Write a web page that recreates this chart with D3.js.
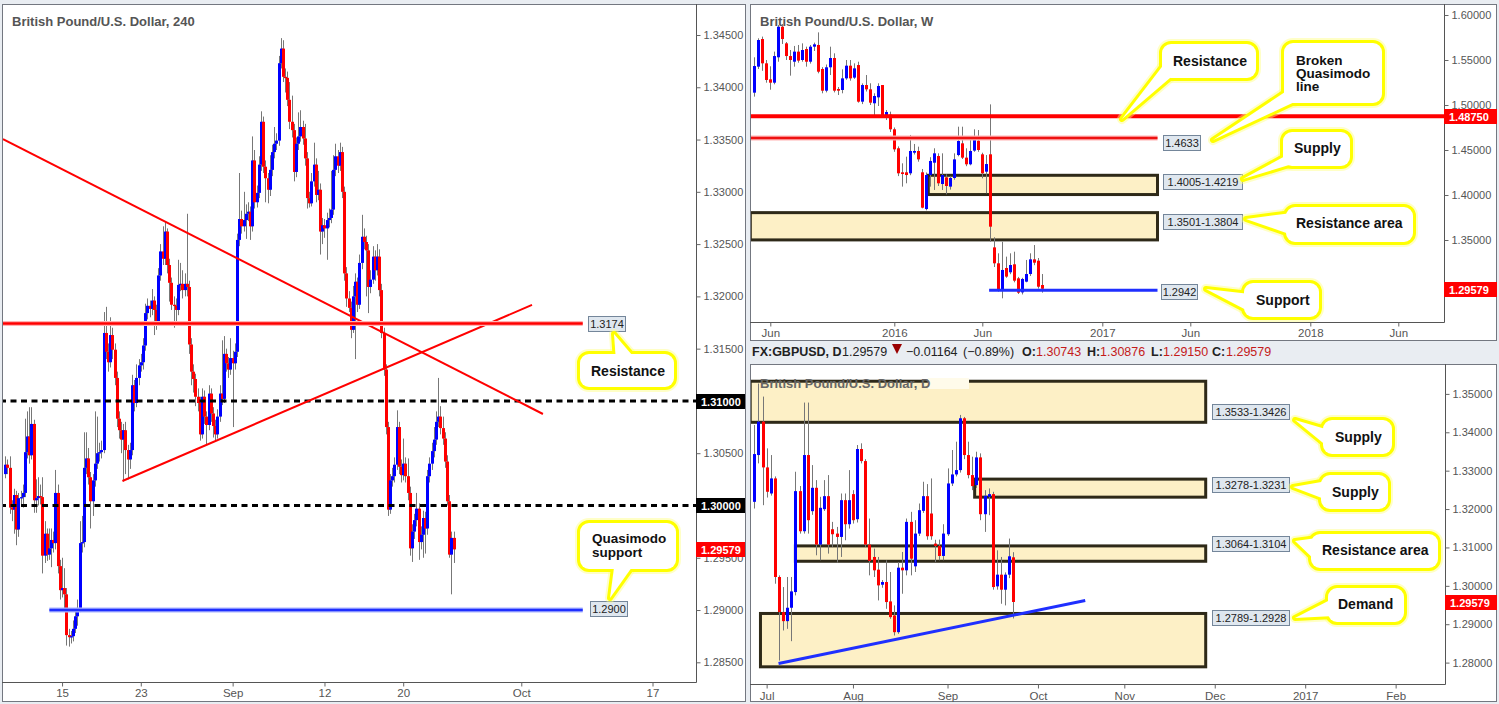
<!DOCTYPE html>
<html><head><meta charset="utf-8">
<script src="https://cdn.jsdelivr.net/npm/d3@7/dist/d3.min.js"></script>
<style>
html,body{margin:0;padding:0;background:#e9edf2;}
svg{display:block;font-family:"Liberation Sans",Arial,sans-serif;}
</style></head><body>
<svg id="chart" width="1499" height="704"></svg>
<script>
// ================= 4-HOUR (left) =================
const h4Open = [1.3030,1.3039,1.3036,1.2998,1.2996,1.3010,1.2977,1.3007,1.3008,1.3012,
1.3051,1.3066,1.3048,1.3078,1.3005,1.3007,1.3009,1.3008,1.2952,1.2973,
1.2953,1.2959,1.2967,1.2964,1.3012,1.2942,1.2919,1.2921,1.2915,1.2876,
1.2874,1.2875,1.2882,1.2894,1.2902,1.2964,1.2965,1.3036,1.3045,1.3027,
1.3004,1.3024,1.3040,1.3050,1.3051,1.3053,1.3165,1.3147,1.3137,1.3163,
1.3149,1.3122,1.3083,1.3072,1.3063,1.3072,1.3053,1.3044,1.3053,1.3115,
1.3098,1.3122,1.3134,1.3137,1.3153,1.3184,1.3191,1.3188,1.3196,1.3187,
1.3176,1.3220,1.3243,1.3236,1.3262,1.3230,1.3213,1.3192,1.3191,1.3187,
1.3211,1.3212,1.3206,1.3212,1.3209,1.3154,1.3128,1.3121,1.3104,1.3098,
1.3068,1.3104,1.3085,1.3077,1.3107,1.3088,1.3076,1.3068,1.3085,1.3107,
1.3102,1.3145,1.3136,1.3130,1.3141,1.3136,1.3147,1.3254,1.3274,1.3267,
1.3273,1.3279,1.3281,1.3267,1.3330,1.3290,1.3299,1.3326,1.3367,1.3324,
1.3313,1.3302,1.3321,1.3338,1.3346,1.3349,1.3423,1.3437,1.3410,1.3409,
1.3388,1.3367,1.3359,1.3319,1.3346,1.3353,1.3362,1.3351,1.3332,1.3294,
1.3289,1.3310,1.3326,1.3297,1.3302,1.3262,1.3268,1.3265,1.3273,1.3275,
1.3283,1.3321,1.3334,1.3325,1.3338,1.3300,1.3222,1.3198,1.3189,1.3168,
1.3200,1.3214,1.3192,1.3232,1.3257,1.3252,1.3244,1.3209,1.3216,1.3238,
1.3225,1.3238,1.3206,1.3165,1.3130,1.3075,1.2996,1.3024,1.3028,1.3039,
1.3075,1.3037,1.3029,1.3040,1.3028,1.3012,1.2959,1.2975,1.2986,1.2997,
1.2965,1.2972,1.2988,1.2978,1.3028,1.3040,1.3052,1.3063,1.3080,1.3085,
1.3074,1.3064,1.3042,1.3004,1.2953,1.2969];
const h4High = [1.3047,1.3044,1.3047,1.3005,1.3016,1.3014,1.3012,1.3014,1.3020,1.3083,
1.3090,1.3094,1.3094,1.3082,1.3025,1.3027,1.3020,1.3027,1.2985,1.2978,
1.2978,1.2978,1.2975,1.3034,1.3020,1.2948,1.2950,1.2940,1.2921,1.2882,
1.2880,1.2890,1.2900,1.2910,1.2985,1.2990,1.3070,1.3070,1.3055,1.3032,
1.3030,1.3090,1.3085,1.3060,1.3062,1.3185,1.3190,1.3155,1.3180,1.3170,
1.3155,1.3128,1.3090,1.3080,1.3078,1.3080,1.3058,1.3060,1.3125,1.3120,
1.3135,1.3140,1.3145,1.3160,1.3193,1.3198,1.3196,1.3207,1.3200,1.3192,
1.3227,1.3250,1.3267,1.3272,1.3265,1.3236,1.3218,1.3200,1.3198,1.3235,
1.3232,1.3225,1.3222,1.3279,1.3215,1.3160,1.3135,1.3126,1.3112,1.3104,
1.3112,1.3110,1.3090,1.3115,1.3112,1.3094,1.3082,1.3092,1.3115,1.3158,
1.3162,1.3150,1.3142,1.3160,1.3148,1.3155,1.3260,1.3318,1.3282,1.3300,
1.3288,1.3290,1.3286,1.3353,1.3340,1.3306,1.3334,1.3377,1.3372,1.3330,
1.3318,1.3335,1.3345,1.3362,1.3356,1.3430,1.3447,1.3445,1.3418,1.3415,
1.3405,1.3392,1.3365,1.3352,1.3376,1.3378,1.3368,1.3365,1.3338,1.3300,
1.3318,1.3347,1.3332,1.3320,1.3308,1.3275,1.3274,1.3280,1.3284,1.3320,
1.3335,1.3346,1.3340,1.3347,1.3343,1.3305,1.3228,1.3205,1.3195,1.3210,
1.3222,1.3218,1.3240,1.3278,1.3265,1.3258,1.3250,1.3225,1.3248,1.3244,
1.3250,1.3245,1.3212,1.3170,1.3135,1.3080,1.3030,1.3036,1.3046,1.3091,
1.3080,1.3044,1.3064,1.3046,1.3045,1.3018,1.2982,1.2992,1.3012,1.3002,
1.2980,1.2995,1.2994,1.3034,1.3046,1.3060,1.3075,1.3090,1.3122,1.3095,
1.3085,1.3070,1.3048,1.3010,1.2975,1.2975];
const h4Low = [1.3026,1.3030,1.2992,1.2985,1.2973,1.2962,1.2970,1.3000,1.2998,1.3008,
1.3045,1.3040,1.3044,1.2993,1.2993,1.3000,1.3001,1.2935,1.2945,1.2947,
1.2948,1.2941,1.2955,1.2958,1.2935,1.2910,1.2912,1.2900,1.2866,1.2865,
1.2868,1.2870,1.2878,1.2885,1.2898,1.2955,1.2960,1.3030,1.3020,1.2978,
1.2990,1.3018,1.3035,1.3042,1.3045,1.3050,1.3140,1.3128,1.3132,1.3140,
1.3115,1.3075,1.3064,1.3050,1.3023,1.3030,1.3025,1.3035,1.3048,1.3090,
1.3094,1.3115,1.3128,1.3130,1.3148,1.3178,1.3180,1.3182,1.3163,1.3168,
1.3172,1.3215,1.3230,1.3230,1.3222,1.3195,1.3187,1.3170,1.3172,1.3182,
1.3205,1.3198,1.3200,1.3200,1.3145,1.3115,1.3108,1.3095,1.3090,1.3062,
1.3064,1.3078,1.3058,1.3072,1.3080,1.3065,1.3061,1.3064,1.3080,1.3096,
1.3098,1.3128,1.3122,1.3125,1.3075,1.3130,1.3142,1.3248,1.3260,1.3262,
1.3255,1.3272,1.3254,1.3262,1.3284,1.3285,1.3294,1.3320,1.3318,1.3290,
1.3289,1.3296,1.3315,1.3332,1.3340,1.3344,1.3418,1.3405,1.3395,1.3382,
1.3360,1.3352,1.3310,1.3314,1.3340,1.3348,1.3345,1.3325,1.3284,1.3285,
1.3286,1.3305,1.3290,1.3292,1.3240,1.3250,1.3256,1.3235,1.3266,1.3270,
1.3278,1.3315,1.3318,1.3320,1.3294,1.3215,1.3190,1.3185,1.3160,1.3165,
1.3140,1.3185,1.3188,1.3226,1.3245,1.3200,1.3184,1.3203,1.3212,1.3215,
1.3220,1.3200,1.3160,1.3124,1.3068,1.2990,1.2992,1.3018,1.3022,1.3034,
1.3030,1.3022,1.3024,1.3022,1.3005,1.2952,1.2946,1.2968,1.2980,1.2948,
1.2958,1.2950,1.2954,1.2972,1.3022,1.3034,1.3046,1.3058,1.3075,1.3068,
1.3058,1.3036,1.3000,1.2950,1.2915,1.2945];
const h4Close = [1.3039,1.3036,1.2998,1.2996,1.3010,1.2977,1.3007,1.3008,1.3012,1.3051,
1.3066,1.3048,1.3078,1.3005,1.3007,1.3009,1.3008,1.2952,1.2973,1.2953,
1.2959,1.2967,1.2964,1.3012,1.2942,1.2919,1.2921,1.2915,1.2876,1.2874,
1.2875,1.2882,1.2894,1.2902,1.2964,1.2965,1.3036,1.3045,1.3027,1.3004,
1.3024,1.3040,1.3050,1.3051,1.3053,1.3165,1.3147,1.3137,1.3163,1.3149,
1.3122,1.3083,1.3072,1.3063,1.3072,1.3053,1.3044,1.3053,1.3115,1.3098,
1.3122,1.3134,1.3137,1.3153,1.3184,1.3191,1.3188,1.3196,1.3187,1.3176,
1.3220,1.3243,1.3236,1.3262,1.3230,1.3213,1.3192,1.3191,1.3187,1.3211,
1.3212,1.3206,1.3212,1.3209,1.3154,1.3128,1.3121,1.3104,1.3098,1.3068,
1.3104,1.3085,1.3077,1.3107,1.3088,1.3076,1.3068,1.3085,1.3107,1.3102,
1.3145,1.3136,1.3130,1.3141,1.3136,1.3147,1.3254,1.3274,1.3267,1.3273,
1.3279,1.3281,1.3267,1.3330,1.3290,1.3299,1.3326,1.3367,1.3324,1.3313,
1.3302,1.3321,1.3338,1.3346,1.3349,1.3423,1.3437,1.3410,1.3409,1.3388,
1.3367,1.3359,1.3319,1.3346,1.3353,1.3362,1.3351,1.3332,1.3294,1.3289,
1.3310,1.3326,1.3297,1.3302,1.3262,1.3268,1.3265,1.3273,1.3275,1.3283,
1.3321,1.3334,1.3325,1.3338,1.3300,1.3222,1.3198,1.3189,1.3168,1.3200,
1.3214,1.3192,1.3232,1.3257,1.3252,1.3244,1.3209,1.3216,1.3238,1.3225,
1.3238,1.3206,1.3165,1.3130,1.3075,1.2996,1.3024,1.3028,1.3039,1.3075,
1.3037,1.3029,1.3040,1.3028,1.3012,1.2959,1.2975,1.2986,1.2997,1.2965,
1.2972,1.2988,1.2978,1.3028,1.3040,1.3052,1.3063,1.3080,1.3085,1.3074,
1.3064,1.3042,1.3004,1.2953,1.2969,1.2958];
const h4TickLabels = ["15","23","Sep","12","20","Oct","17"];
const h4TickIndex  = [26,62,104,146,182,236,296];
const h4PriceTicks = [1.285,1.29,1.295,1.305,1.315,1.32,1.325,1.33,1.335,1.34,1.345];
const h4LevelPrice = [1.3174, 1.2900];
const h4LevelLabel = ["1.3174", "1.2900"];
const h4LevelSpan  = [[-2, 264.1], [20.2, 264.1]];
const h4RoundLevels = [1.31, 1.30];
const h4RoundLabels = ["1.31000", "1.30000"];
const h4TrendDown = [[-1, 1.33505], [245.9, 1.30875]];
const h4TrendUp   = [[53.6, 1.30234], [240.9, 1.31918]];
const h4Callouts  = [["Resistance"], ["Quasimodo", "support"]];
const lastPrice = 1.29579;
const lastPriceLabel = "1.29579";

// ================= WEEKLY (top right) =================
const wOpen = [1.5137,1.5426,1.5733,1.5463,1.5285,1.5248,1.5530,1.5870,1.5685,1.5544,
1.5481,1.5593,1.5500,1.5622,1.5481,1.5648,1.5667,1.5400,1.5159,1.5419,
1.5522,1.5178,1.5167,1.5296,1.5437,1.5304,1.5444,1.5037,1.5222,1.5174,
1.5019,1.5085,1.5222,1.4885,1.4893,1.4730,1.4519,1.4252,1.4252,1.4241,
1.4470,1.4489,1.4252,1.3844,1.4222,1.4359,1.4433,1.4122,1.4196,1.4093,
1.4189,1.4444,1.4574,1.4415,1.4341,1.4493,1.4604,1.4452,1.4259,1.4452,
1.3418,1.3241,1.2952,1.3189,1.3141,1.3230,1.3074,1.2918,1.3037,1.3122,
1.3285,1.3270,1.3000];
const wHigh = [1.5530,1.5741,1.5760,1.5500,1.5430,1.5593,1.5889,1.5900,1.5700,1.5611,
1.5656,1.5667,1.5685,1.5648,1.5667,1.5693,1.5807,1.5420,1.5450,1.5648,
1.5574,1.5200,1.5396,1.5500,1.5500,1.5463,1.5481,1.5240,1.5333,1.5241,
1.5130,1.5241,1.5222,1.4944,1.4926,1.4750,1.4540,1.4352,1.4426,1.4667,
1.4567,1.4537,1.4289,1.4250,1.4420,1.4519,1.4463,1.4463,1.4230,1.4210,
1.4463,1.4759,1.4759,1.4519,1.4648,1.4730,1.4722,1.4470,1.4444,1.5007,
1.3530,1.3352,1.3481,1.3315,1.3352,1.3370,1.3090,1.3080,1.3278,1.3352,
1.3444,1.3300,1.3122];
const wLow = [1.5093,1.5400,1.5380,1.5248,1.5170,1.5230,1.5481,1.5678,1.5500,1.5326,
1.5426,1.5470,1.5481,1.5426,1.5460,1.5600,1.5352,1.5130,1.5140,1.5333,
1.5140,1.5111,1.5130,1.5280,1.5270,1.5290,1.5026,1.5010,1.5150,1.5000,
1.4889,1.4989,1.4863,1.4833,1.4700,1.4480,1.4210,1.4093,1.4130,1.4220,
1.4450,1.4370,1.3852,1.3830,1.4093,1.4056,1.4100,1.4056,1.4007,1.4060,
1.4170,1.4430,1.4400,1.4320,1.4330,1.4480,1.4480,1.4185,1.4019,1.3481,
1.3200,1.2926,1.2852,1.3080,1.3120,1.3030,1.2900,1.2895,1.3030,1.3100,
1.3220,1.2960,1.2915];
const wClose = [1.5433,1.5722,1.5463,1.5278,1.5248,1.5544,1.5870,1.5733,1.5544,1.5500,
1.5593,1.5493,1.5611,1.5481,1.5648,1.5674,1.5370,1.5159,1.5419,1.5522,
1.5159,1.5159,1.5296,1.5437,1.5296,1.5407,1.5037,1.5222,1.5174,1.5026,
1.5100,1.5211,1.4870,1.4922,1.4730,1.4507,1.4241,1.4233,1.4222,1.4489,
1.4489,1.4396,1.3859,1.4222,1.4378,1.4463,1.4130,1.4222,1.4100,1.4189,
1.4396,1.4600,1.4415,1.4341,1.4489,1.4622,1.4500,1.4241,1.4344,1.3648,
1.3241,1.2944,1.3167,1.3093,1.3222,1.3048,1.2915,1.3067,1.3122,1.3285,
1.3248,1.2981,1.2958];
const wTickLabels = ["Jun","2016","Jun","2017","Jun","2018","Jun"];
const wTickIndex  = [4,35,57,87,109,139,161];
const wPriceTicks = [1.35,1.40,1.45,1.50,1.55,1.60];
const wResistance = 1.4875, wResistanceLabel = "1.48750";
const wBrokenQM = 1.4633, wBrokenQMSpan = [-1, 100.8], wBrokenQMLabel = "1.4633";
const wSupport = 1.2942, wSupportSpan = [58.7, 100.8], wSupportLabel = "1.2942";
const wZones = [[43.5, 100.8, 1.4005, 1.4219], [-1, 100.8, 1.3501, 1.3804]];
const wZoneLabels = ["1.4005-1.4219", "1.3501-1.3804"];
const wCallouts = [["Resistance"], ["Broken", "Quasimodo", "line"], ["Supply"], ["Resistance area"], ["Support"]];

// ================= DAILY (bottom right) =================
const dOpen = [1.32188,1.33407,1.34278,1.33085,1.32406,1.32798,1.30230,1.29315,1.29080,1.29429,
1.29838,1.32467,1.31422,1.33407,1.31945,1.32554,1.31074,1.31997,1.32336,1.31474,
1.31361,1.31274,1.32232,1.31605,1.32389,1.31736,1.33564,1.33250,1.31074,1.30752,
1.30421,1.30029,1.30099,1.29594,1.29228,1.28793,1.30473,1.30404,1.31666,1.30508,
1.31361,1.31953,1.32336,1.31884,1.31100,1.31039,1.30778,1.31344,1.32667,1.32902,
1.33015,1.34365,1.33407,1.32885,1.32624,1.33346,1.31866,1.32319,1.32389,1.29986,
1.30291,1.29899,1.30291,1.30743];
const dHigh = [1.34191,1.35270,1.34930,1.33581,1.33407,1.32850,1.30273,1.29968,1.30230,1.30230,
1.32972,1.32600,1.34774,1.34774,1.33146,1.32754,1.32319,1.32754,1.32885,1.31666,
1.31535,1.32406,1.32406,1.33015,1.32493,1.33668,1.33712,1.33300,1.31753,1.30969,
1.30752,1.30150,1.30664,1.30360,1.29490,1.30621,1.30882,1.31753,1.31927,1.31710,
1.32145,1.32711,1.32650,1.32798,1.31200,1.31205,1.31605,1.33059,1.33538,1.33755,
1.34452,1.34400,1.33755,1.33364,1.33494,1.33451,1.32493,1.32537,1.32450,1.30925,
1.30752,1.30350,1.31231,1.30876];
const dLow = [1.32014,1.33190,1.32101,1.32300,1.32350,1.30055,1.28053,1.28837,1.28880,1.28558,
1.29751,1.31361,1.31361,1.31361,1.31850,1.30795,1.30664,1.31950,1.30839,1.31013,
1.30604,1.30752,1.31187,1.31492,1.31622,1.31650,1.33189,1.31013,1.30273,1.30230,
1.29620,1.29950,1.29402,1.29141,1.28706,1.28750,1.29794,1.30273,1.30273,1.30360,
1.31300,1.31900,1.31200,1.31200,1.30621,1.30664,1.30664,1.31300,1.32600,1.32850,
1.32950,1.33300,1.32800,1.32493,1.32550,1.31710,1.31405,1.31840,1.29900,1.29900,
1.29533,1.29490,1.30200,1.29150];
const dClose = [1.33433,1.34278,1.33085,1.32450,1.32798,1.30230,1.29315,1.29080,1.29429,1.29855,
1.32467,1.31422,1.33407,1.31710,1.32554,1.31074,1.32032,1.32336,1.31074,1.31344,
1.31274,1.32232,1.31605,1.32232,1.31710,1.33564,1.33250,1.31074,1.30647,1.30404,
1.30012,1.30099,1.29577,1.29185,1.28793,1.30473,1.30404,1.31666,1.30708,1.31361,
1.31971,1.32336,1.31292,1.31292,1.31039,1.30778,1.31361,1.32667,1.32902,1.33015,
1.34365,1.33407,1.32885,1.32598,1.33346,1.31866,1.32345,1.32389,1.29968,1.30291,
1.29899,1.30291,1.30769,1.29579];
const dTickLabels = ["Jul","Aug","Sep","Oct","Nov","Dec","2017","Feb"];
const dTickIndex  = [3,24,47,69,90,112,134,156];
const dPriceTicks = [1.28,1.29,1.30,1.31,1.32,1.33,1.34,1.35];
const dZones = [[-1, 109.8, 1.3426, 1.3533], [53.6, 109.8, 1.3231, 1.3278], [10.0, 109.8, 1.3064, 1.3104], [1.5, 109.8, 1.2789, 1.2928]];
const dZoneLabels = ["1.3533-1.3426", "1.3278-1.3231", "1.3064-1.3104", "1.2789-1.2928"];
const dTrend = [[5.9, 1.27975], [80.5, 1.2962]];
const dCallouts = [["Supply"], ["Supply"], ["Resistance area"], ["Demand"]];
const dHeader = {sym: "FX:GBPUSD, D", last: "1.29579", chg: "\u22120.01164", pct: "(\u22120.89%)",
  o: "1.30743", h: "1.30876", l: "1.29150", c: "1.29579"};

// ================= RENDER =================
const svg = d3.select("#chart");
const defs = svg.append("defs");
svg.append("rect").attr("width", 1499).attr("height", 704).attr("fill", "#e9edf2");

function makePanel(o) {
  svg.append("rect").attr("x", o.bx + 0.5).attr("y", o.by + 0.5).attr("width", o.bw - 1).attr("height", o.bh - 1)
    .attr("fill", "#fff").attr("stroke", "#737780");
  defs.append("clipPath").attr("id", o.id).append("rect")
    .attr("x", o.px0).attr("y", o.py0).attr("width", o.px1 - o.px0).attr("height", o.py1 - o.py0);
  const root = svg.append("g");
  const plot = root.append("g").attr("clip-path", `url(#${o.id})`);
  const over = svg.append("g");
  over.append("line").attr("x1", o.px1 + 0.5).attr("x2", o.px1 + 0.5).attr("y1", o.by).attr("y2", o.py1 + 0.5).attr("stroke", "#555");
  over.append("line").attr("x1", o.bx).attr("x2", o.px1 + 0.5).attr("y1", o.py1 + 0.5).attr("y2", o.py1 + 0.5).attr("stroke", "#555");
  return {root, plot, over};
}

function candles(g, x, y, O, Hi, Lo, C, bw) {
  const idx = d3.range(C.length);
  g.append("g").selectAll("line").data(idx).join("line")
    .attr("x1", i => Math.round(x(i)) + 0.5).attr("x2", i => Math.round(x(i)) + 0.5)
    .attr("y1", i => y(Hi[i])).attr("y2", i => y(Lo[i]))
    .attr("stroke", "#777").attr("stroke-width", 1);
  g.append("g").selectAll("rect").data(idx).join("rect")
    .attr("x", i => Math.round(x(i)) + 0.5 - bw / 2).attr("width", bw)
    .attr("y", i => Math.min(y(O[i]), y(C[i])))
    .attr("height", i => Math.max(1.3, Math.abs(y(O[i]) - y(C[i]))))
    .attr("fill", i => C[i] >= O[i] ? "#0000ff" : "#ff0000");
}

function styleAxis(g) {
  g.select(".domain").remove();
  g.selectAll(".tick line").attr("stroke", "#666");
  g.selectAll(".tick text").attr("fill", "#555").attr("font-size", "11px").attr("font-family", '"Liberation Sans", Arial, sans-serif');
}

function yAxis(over, y, ticks, xPos) {
  over.append("g").attr("transform", `translate(${xPos + 0.5},0)`)
    .call(d3.axisRight(y).tickValues(ticks).tickFormat(d3.format(".5f")).tickSize(4).tickPadding(3))
    .call(styleAxis);
}
function xAxis(over, x, idx, labels, yPos, pad) {
  over.append("g").attr("transform", `translate(0,${yPos + 0.5})`)
    .call(d3.axisBottom(x).tickValues(idx).tickFormat((d, i) => labels[i]).tickSize(4).tickPadding(pad))
    .call(styleAxis)
    .call(g => g.selectAll(".tick text").attr("font-size", "11.5px"));
}

function axisTag(over, x, yc, w, text, fill) {
  over.append("rect").attr("x", x).attr("y", Math.round(yc) - 7).attr("width", w).attr("height", 15).attr("fill", fill);
  over.append("text").attr("x", x + 5).attr("y", Math.round(yc) + 4.5).attr("fill", "#fff")
    .attr("font-size", "11px").attr("font-weight", "bold").text(text);
}

function priceTag(g, x, yc, w, text) {
  g.append("rect").attr("x", x + 0.5).attr("y", Math.round(yc) - 7.5).attr("width", w).attr("height", 15)
    .attr("fill", "#dfe7ef").attr("stroke", "#74869a");
  g.append("text").attr("x", x + w / 2 + 0.5).attr("y", Math.round(yc) + 4).attr("text-anchor", "middle")
    .attr("fill", "#222").attr("font-size", "11px").text(text);
}

function callout(g, c, lines) {
  const grp = g.append("g");
  const tri = d3.line()([c.b1, c.tip, c.b2]) + "Z";
  const rectA = s => s.attr("x", c.x).attr("y", c.y).attr("width", c.w).attr("height", c.h).attr("rx", 9);
  grp.append("rect").call(rectA).attr("fill", "none").attr("stroke", "#ffff80").attr("stroke-width", 10).attr("opacity", 0.45);
  grp.append("path").attr("d", tri).attr("fill", "none").attr("stroke", "#ffff80").attr("stroke-width", 10).attr("opacity", 0.45).attr("stroke-linejoin", "round");
  grp.append("rect").call(rectA).attr("fill", "#fff").attr("stroke", "#ffff00").attr("stroke-width", 6);
  grp.append("path").attr("d", tri).attr("fill", "#fff").attr("stroke", "#ffff00").attr("stroke-width", 6).attr("stroke-linejoin", "round");
  grp.append("rect").call(rectA).attr("fill", "#fff");
  grp.append("path").attr("d", tri).attr("fill", "#fff");
  lines.forEach((t, k) => {
    grp.append("text").attr("x", c.tx).attr("y", c.ty + k * c.lh).attr("fill", "#111")
      .attr("font-size", (c.fs || 14) + "px").attr("font-weight", "bold").text(t);
  });
}

function hline(g, x, y, p, span, color, w, dash) {
  const l = g.append("line").attr("x1", x(span[0])).attr("x2", x(span[1])).attr("y1", y(p)).attr("y2", y(p))
    .attr("stroke", color).attr("stroke-width", w);
  if (dash) l.attr("stroke-dasharray", dash);
  return l;
}

// ---------- LEFT PANEL (240) ----------
{
  const P = makePanel({id: "cl", bx: 2, by: 4, bw: 744, bh: 698, px0: 3, px1: 696, py0: 5, py1: 682});
  const x = d3.scaleLinear().domain([0, 205]).range([5.2, 453.5]);
  const y = d3.scaleLinear().domain([1.285, 1.345]).range([662.3, 35]);
  const g = P.plot;
  g.append("text").attr("x", 12).attr("y", 26).attr("fill", "#555").attr("font-size", "13px").attr("font-weight", "bold")
    .text("British Pound/U.S. Dollar, 240");
  candles(g, x, y, h4Open, h4High, h4Low, h4Close, 3);
  h4RoundLevels.forEach(p => hline(g, x, y, p, [x.invert(0), x.invert(700)], "#000", 3, "6,4.5"));
  [h4TrendDown, h4TrendUp].forEach(t => g.append("line")
    .attr("x1", x(t[0][0])).attr("y1", y(t[0][1])).attr("x2", x(t[1][0])).attr("y2", y(t[1][1]))
    .attr("stroke", "#ff0000").attr("stroke-width", 2));
  hline(g, x, y, h4LevelPrice[0], h4LevelSpan[0], "#ffb3b3", 5);
  hline(g, x, y, h4LevelPrice[0], h4LevelSpan[0], "#ff0000", 2.5);
  hline(g, x, y, h4LevelPrice[1], h4LevelSpan[1], "#aab4ff", 5);
  hline(g, x, y, h4LevelPrice[1], h4LevelSpan[1], "#1f2fff", 2.5);
  priceTag(g, 588, y(h4LevelPrice[0]), 37, h4LevelLabel[0]);
  priceTag(g, 590, y(h4LevelPrice[1]) - 1, 37, h4LevelLabel[1]);
  callout(g, {x: 580, y: 354, w: 94, h: 33, tip: [614, 334], b1: [616, 362], b2: [638, 362], tx: 591, ty: 376, lh: 13}, h4Callouts[0]);
  callout(g, {x: 580, y: 523, w: 96, h: 46, tip: [610, 598], b1: [615, 560], b2: [637, 560], tx: 592, ty: 543, lh: 14, fs: 13.5}, h4Callouts[1]);
  yAxis(P.over, y, h4PriceTicks, 696);
  xAxis(P.over, x, h4TickIndex, h4TickLabels, 682, 2);
  h4RoundLevels.forEach((p, k) => axisTag(P.over, 696, y(p), 49, h4RoundLabels[k], "#000"));
  axisTag(P.over, 696, y(lastPrice), 49, lastPriceLabel, "#ff0000");
}

// ---------- TOP RIGHT (Weekly) ----------
{
  const P = makePanel({id: "cw", bx: 750, by: 4, bw: 747, bh: 337, px0: 751, px1: 1444, py0: 5, py1: 322});
  const x = d3.scaleLinear().domain([0, 72]).range([754.3, 1042.3]);
  const y = d3.scaleLinear().domain([1.35, 1.60]).range([240, 15]);
  const g = P.plot;
  g.append("text").attr("x", 760).attr("y", 26).attr("fill", "#555").attr("font-size", "13px").attr("font-weight", "bold")
    .text("British Pound/U.S. Dollar, W");
  wZones.forEach(z => g.append("rect").attr("x", x(z[0])).attr("width", x(z[1]) - x(z[0]))
    .attr("y", y(z[3])).attr("height", y(z[2]) - y(z[3]))
    .attr("fill", "#fdf0c6").attr("stroke", "#2e2918").attr("stroke-width", 3));
  candles(g, x, y, wOpen, wHigh, wLow, wClose, 3);
  hline(g, x, y, wResistance, [x.invert(740), x.invert(1450)], "#ff0000", 4);
  hline(g, x, y, wBrokenQM, wBrokenQMSpan, "#ffb3b3", 5);
  hline(g, x, y, wBrokenQM, wBrokenQMSpan, "#ee1111", 2.5);
  hline(g, x, y, wSupport, wSupportSpan, "#1f2fff", 3);
  priceTag(g, 1163, y(wBrokenQM) + 5, 37, wBrokenQMLabel);
  wZones.forEach((z, k) => priceTag(g, 1163, k === 0 ? 182 : 222, 79, wZoneLabels[k]));
  priceTag(g, 1161, y(wSupport) + 2, 36, wSupportLabel);
  callout(g, {x: 1162, y: 44, w: 94, h: 34, tip: [1122, 119], b1: [1168, 59], b2: [1177, 72], tx: 1173, ty: 66, lh: 12}, wCallouts[0]);
  callout(g, {x: 1284, y: 43, w: 98, h: 60, tip: [1213, 140], b1: [1291, 88], b2: [1303, 98], tx: 1296, ty: 65, lh: 13, fs: 13.5}, wCallouts[1]);
  callout(g, {x: 1283, y: 132, w: 67, h: 34, tip: [1243, 179], b1: [1289, 154], b2: [1299, 162], tx: 1294, ty: 153, lh: 12}, wCallouts[2]);
  callout(g, {x: 1286, y: 207, w: 127, h: 35, tip: [1246, 219], b1: [1292, 213], b2: [1292, 235], tx: 1296, ty: 228, lh: 12}, wCallouts[3]);
  callout(g, {x: 1244, y: 283, w: 75, h: 34, tip: [1206, 289], b1: [1250, 294], b2: [1250, 312], tx: 1256, ty: 305, lh: 12}, wCallouts[4]);
  yAxis(P.over, y, wPriceTicks, 1444);
  xAxis(P.over, x, wTickIndex, wTickLabels, 322, 2);
  axisTag(P.over, 1444, y(wResistance), 53, wResistanceLabel, "#ff0000");
  axisTag(P.over, 1444, y(lastPrice), 53, lastPriceLabel, "#ff0000");
}

// ---------- HEADER (daily) ----------
{
  const hy = 356;
  const t = (x, s, opt = {}) => svg.append("text").attr("x", x).attr("y", hy).attr("font-size", "12.5px")
    .attr("fill", opt.fill || "#222").attr("font-weight", opt.bold ? "bold" : "normal").text(s);
  t(752, dHeader.sym, {bold: true});
  t(842, dHeader.last);
  svg.append("path").attr("d", "M892,344L902,344L897,354Z").attr("fill", "#990000");
  t(906, dHeader.chg);
  t(963, dHeader.pct);
  t(1022, "O:", {bold: true}); t(1036, dHeader.o, {fill: "#c41a1a"});
  t(1087, "H:", {bold: true}); t(1100, dHeader.h, {fill: "#c41a1a"});
  t(1151, "L:", {bold: true}); t(1163, dHeader.l, {fill: "#c41a1a"});
  t(1212, "C:", {bold: true}); t(1226, dHeader.c, {fill: "#c41a1a"});
}

// ---------- BOTTOM RIGHT (Daily) ----------
{
  const P = makePanel({id: "cd", bx: 750, by: 364, bw: 747, bh: 338, px0: 751, px1: 1445, py0: 365, py1: 684});
  const x = d3.scaleLinear().domain([0, 63]).range([754.3, 1013.3]);
  const y = d3.scaleLinear().domain([1.28, 1.35]).range([662.6, 393.9]);
  const g = P.plot;
  dZones.forEach(z => g.append("rect").attr("x", x(z[0])).attr("width", x(z[1]) - x(z[0]))
    .attr("y", y(z[3])).attr("height", y(z[2]) - y(z[3]))
    .attr("fill", "#fdf0c6").attr("stroke", "#2e2918").attr("stroke-width", 3));
  g.append("rect").attr("x", 928).attr("y", 378).attr("width", 41).attr("height", 11).attr("fill", "#fffbea");
  g.append("text").attr("x", 760).attr("y", 388).attr("fill", "#666").attr("font-size", "13px").attr("font-weight", "bold")
    .text("British Pound/U.S. Dollar, D");
  candles(g, x, y, dOpen, dHigh, dLow, dClose, 3);
  g.append("line").attr("x1", x(dTrend[0][0])).attr("y1", y(dTrend[0][1])).attr("x2", x(dTrend[1][0])).attr("y2", y(dTrend[1][1]))
    .attr("stroke", "#1f2fff").attr("stroke-width", 3);
  const tagY = [411.7, 485, 544, 618];
  dZoneLabels.forEach((s, k) => priceTag(g, 1212, tagY[k], 77, s));
  callout(g, {x: 1323, y: 420, w: 69, h: 34, tip: [1295, 420], b1: [1329, 430], b2: [1328, 447], tx: 1335, ty: 442, lh: 12}, dCallouts[0]);
  callout(g, {x: 1321, y: 475, w: 67, h: 34, tip: [1293, 487], b1: [1327, 481], b2: [1327, 500], tx: 1332, ty: 497, lh: 12}, dCallouts[1]);
  callout(g, {x: 1311, y: 534, w: 127, h: 34, tip: [1295, 541], b1: [1317, 538], b2: [1317, 562], tx: 1322, ty: 555, lh: 12}, dCallouts[2]);
  callout(g, {x: 1328, y: 588, w: 76, h: 34, tip: [1295, 618], b1: [1334, 598], b2: [1334, 616], tx: 1338, ty: 609, lh: 12}, dCallouts[3]);
  yAxis(P.over, y, dPriceTicks, 1445);
  xAxis(P.over, x, dTickIndex, dTickLabels, 684, 3);
  axisTag(P.over, 1445, y(lastPrice), 52, lastPriceLabel, "#ff0000");
}
</script>
</body></html>
